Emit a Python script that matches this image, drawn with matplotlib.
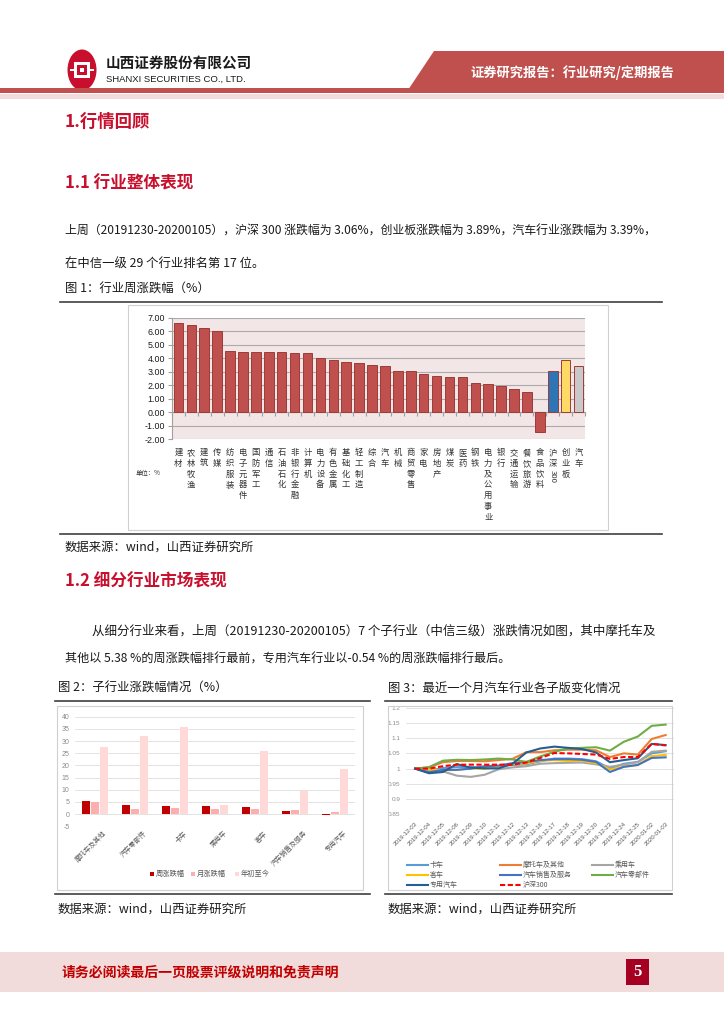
import numpy as np
import matplotlib.pyplot as plt
from matplotlib.patches import Rectangle, Polygon, Circle
from matplotlib.lines import Line2D
from matplotlib.ticker import FormatStrFormatter

plt.rcParams['font.family'] = ['Noto Sans CJK SC', 'DejaVu Sans']
plt.rcParams['axes.unicode_minus'] = False

W, H = 724, 1024
RED_TITLE = '#C8102E'
BANNER = '#C0504D'

# figure 1: weekly change by industry (%)
industries = ['建材', '农林牧渔', '建筑', '传媒', '纺织服装', '电子元器件', '国防军工', '通信',
              '石油石化', '非银行金融', '计算机', '电力设备', '有色金属', '基础化工', '轻工制造',
              '综合', '汽车', '机械', '商贸零售', '家电', '房地产', '煤炭', '医药', '钢铁',
              '电力及公用事业', '银行', '交通运输', '餐饮旅游', '食品饮料', '沪深300', '创业板', '汽车']
weekly_change = [6.63, 6.45, 6.23, 5.99, 4.51, 4.46, 4.46, 4.43, 4.43, 4.41, 4.36, 4.04, 3.87,
                 3.72, 3.62, 3.48, 3.39, 3.05, 3.05, 2.86, 2.68, 2.64, 2.59, 2.19, 2.07, 1.92,
                 1.75, 1.48, -1.45, 3.06, 3.89, 3.39]
y1_ticks = [-2, -1, 0, 1, 2, 3, 4, 5, 6, 7]

# figure 2: sub-industry change (%)
sub_industries = ['摩托车及其他', '汽车零部件', '卡车', '乘用车', '客车', '汽车销售及服务', '专用汽车']
sub_week = [5.38, 3.7, 3.4, 3.3, 2.9, 1.1, -0.54]
sub_month = [4.9, 2.0, 2.7, 2.2, 2.0, 1.8, 1.0]
sub_ytd = [27.4, 32.1, 35.6, 3.8, 26.0, 9.3, 18.6]
sub_series = ['周涨跌幅', '月涨跌幅', '年初至今']
y2_ticks = [-5, 0, 5, 10, 15, 20, 25, 30, 35, 40]

# figure 3: sub-industry index over the last month
dates = ['2019-12-03', '2019-12-04', '2019-12-05', '2019-12-06', '2019-12-09', '2019-12-10',
         '2019-12-11', '2019-12-12', '2019-12-13', '2019-12-16', '2019-12-17', '2019-12-18',
         '2019-12-19', '2019-12-20', '2019-12-23', '2019-12-24', '2019-12-25', '2020-01-02',
         '2020-01-03']
truck = [1.0, 0.993, 1.002, 1.005, 1.005, 1.005, 1.008, 1.012, 1.014, 1.024, 1.033, 1.033,
         1.031, 1.024, 1.001, 1.016, 1.022, 1.050, 1.057]
moto = [1.0, 1.004, 1.021, 1.025, 1.025, 1.024, 1.028, 1.032, 1.054, 1.054, 1.060, 1.062,
        1.062, 1.060, 1.038, 1.050, 1.046, 1.097, 1.110]
passenger = [1.0, 1.0, 0.991, 0.977, 0.973, 0.980, 0.998, 1.004, 1.008, 1.016, 1.018, 1.019,
             1.020, 1.014, 1.006, 1.013, 1.021, 1.055, 1.059]
bus = [1.0, 0.997, 0.994, 0.996, 1.001, 0.999, 1.009, 1.015, 1.017, 1.026, 1.028, 1.025,
       1.026, 1.018, 0.997, 1.006, 1.012, 1.041, 1.045]
sales = [1.0, 0.988, 0.996, 0.996, 1.0, 1.008, 1.010, 1.018, 1.022, 1.028, 1.031, 1.031,
         1.029, 1.022, 0.989, 1.006, 1.012, 1.035, 1.037]
parts = [1.0, 1.005, 1.026, 1.029, 1.028, 1.030, 1.033, 1.030, 1.022, 1.040, 1.055, 1.066,
         1.068, 1.070, 1.059, 1.088, 1.105, 1.140, 1.144]
special = [1.0, 0.985, 0.989, 1.015, 1.003, 1.001, 1.001, 1.016, 1.053, 1.066, 1.072, 1.068,
           1.064, 1.053, 1.021, 1.028, 1.034, 1.081, 1.077]
hs300 = [1.0, 1.0, 1.008, 1.013, 1.013, 1.013, 1.013, 1.013, 1.02, 1.035, 1.051, 1.050,
         1.048, 1.046, 1.032, 1.038, 1.038, 1.081, 1.076]
y3_ticks = [0.85, 0.9, 0.95, 1.0, 1.05, 1.1, 1.15, 1.2]


def fx(x):
    return x / W


def fy(y):
    return 1 - y / H


def put(fig, x, y, s, **kw):
    kw.setdefault('va', 'center')
    kw.setdefault('ha', 'left')
    fig.text(fx(x), fy(y), s, **kw)


def hline(fig, x0, x1, y, color='#404040', lw=1.2):
    fig.add_artist(Line2D([fx(x0), fx(x1)], [fy(y), fy(y)], color=color, lw=lw,
                          transform=fig.transFigure))


def box(fig, x0, y0, x1, y1, color='#D0D0D0', lw=0.8, fill=None):
    fig.add_artist(Rectangle((fx(x0), fy(y1)), (x1 - x0) / W, (y1 - y0) / H,
                             transform=fig.transFigure, lw=lw, edgecolor=color if fill is None else 'none',
                             facecolor=fill if fill else 'none'))


def header(fig):
    # logo
    fig.add_artist(Circle((fx(82), fy(70)), 14.5 / W, transform=fig.transFigure,
                          facecolor=RED_TITLE, edgecolor='none'))
    box(fig, 74, 62, 90, 78, fill='white')
    box(fig, 77, 65, 87, 75, fill=RED_TITLE)
    box(fig, 80, 68, 84, 72, fill='white')
    box(fig, 70, 69, 74, 71, fill='white')
    box(fig, 90, 69, 94, 71, fill='white')
    put(fig, 106, 63, '山西证券股份有限公司', fontsize=10.5, fontweight='bold', color='#1a1a1a')
    put(fig, 106, 79, 'SHANXI SECURITIES CO., LTD.', fontsize=6.8, color='#1a1a1a',
        family='Liberation Sans')
    # banner
    fig.add_artist(Rectangle((0, fy(93)), fx(420), 5 / H, transform=fig.transFigure,
                             facecolor=BANNER, edgecolor='none'))
    fig.add_artist(Polygon([(fx(434), fy(51)), (1, fy(51)), (1, fy(93)), (fx(406), fy(93))],
                           closed=True, transform=fig.transFigure, facecolor=BANNER,
                           edgecolor='none'))
    fig.add_artist(Rectangle((0, fy(99)), 1, 5 / H, transform=fig.transFigure,
                             facecolor='#F2DCDB', edgecolor='none'))
    put(fig, 470, 73, '证券研究报告：行业研究/定期报告', fontsize=9.5, fontweight='bold',
        color='white')


def footer(fig):
    fig.add_artist(Rectangle((0, fy(992)), 1, 40 / H, transform=fig.transFigure,
                             facecolor='#F2DCDB', edgecolor='none'))
    put(fig, 62, 972, '请务必阅读最后一页股票评级说明和免责声明', fontsize=10,
        fontweight='bold', color='#C00000')
    box(fig, 626, 959, 649, 985, fill='#A50021')
    put(fig, 637.5, 972, '5', fontsize=12, fontweight='bold', color='white', ha='center',
        family='Liberation Serif')


def chart_industry(fig):
    ax = fig.add_axes([fx(172), fy(439.3), 413 / W, 121.6 / H])
    x = np.arange(len(industries))
    colors = ['#C0504D'] * 29 + ['#2E75B6', '#FFD966', '#C9C9C9']
    ax.bar(x, weekly_change, width=0.74, color=colors, edgecolor='#9E3B38', linewidth=0.7,
           zorder=3)
    ax.set_xlim(-0.5, len(industries) - 0.5)
    ax.set_ylim(-2, 7)
    ax.set_facecolor('#F2E6E6')
    ax.set_yticks(y1_ticks)
    ax.yaxis.set_major_formatter(FormatStrFormatter('%.2f'))
    ax.grid(axis='y', color='#ABABAB', lw=0.8, zorder=1)
    for s in ['top', 'right']:
        ax.spines[s].set_visible(False)
    ax.spines['bottom'].set_position(('data', 0))
    ax.spines['bottom'].set_color('#A0A0A0')
    ax.spines['left'].set_color('#A0A0A0')
    ax.set_xticks(np.arange(-0.5, len(industries)))
    ax.set_xticklabels([])
    ax.tick_params(axis='x', length=3, color='#A0A0A0')
    ax.tick_params(axis='y', length=3, color='#A0A0A0', labelsize=6.4, labelcolor='#1a1a1a',
                   pad=2)
    for lab in ax.get_yticklabels():
        lab.set_family('Liberation Sans')
    off = -8.7 * 0.72
    for i, name in enumerate(industries):
        if name == '沪深300':
            ax.annotate('沪\n深', xy=(i, -2), xytext=(0, off), textcoords='offset points',
                        ha='center', va='top', fontsize=6, linespacing=1.25, color='#333333')
            ax.annotate('300', xy=(i, -2), xytext=(0, off - 15.5), textcoords='offset points',
                        ha='center', va='top', fontsize=5.6, rotation=-90, color='#333333')
        else:
            ax.annotate('\n'.join(name), xy=(i, -2), xytext=(0, off),
                        textcoords='offset points', ha='center', va='top', fontsize=6,
                        linespacing=1.25, color='#333333')
    put(fig, 136, 473, '单位：%', fontsize=4.6, color='#333333')


def chart_sub(fig):
    ax = fig.add_axes([fx(75), fy(826.3), 280 / W, 109.6 / H])
    x = np.arange(len(sub_industries))
    off = 0.22
    w = 0.19
    ax.bar(x - off, sub_week, width=w, color='#C00000', zorder=3)
    ax.bar(x, sub_month, width=w, color='#FFAEAE', zorder=3)
    ax.bar(x + off, sub_ytd, width=w, color='#FFD8D8', zorder=3)
    ax.set_xlim(-0.5, len(sub_industries) - 0.5)
    ax.set_ylim(-5, 40)
    ax.set_yticks(y2_ticks)
    ax.grid(axis='y', color='#E3E3E3', lw=0.7, zorder=1)
    for s in ax.spines.values():
        s.set_visible(False)
    ax.tick_params(axis='y', length=0, labelsize=5, labelcolor='#8C8C8C', pad=4)
    ax.set_xticks(x + 0.2)
    ax.set_xticklabels(sub_industries, rotation=45, ha='right', rotation_mode='anchor',
                       fontsize=4.9, color='#595959')
    ax.tick_params(axis='x', length=0, pad=2)
    for lab in ax.get_yticklabels():
        lab.set_family('Liberation Sans')
    # legend
    for lx, color, name in zip([150, 191, 235], ['#C00000', '#FFAEAE', '#FFD8D8'], sub_series):
        box(fig, lx, 872, lx + 4, 876, fill=color)
        put(fig, lx + 6, 874, name, fontsize=5.2, color='#595959')


def chart_lines(fig):
    ax = fig.add_axes([fx(406), fy(814.5), 268 / W, 107 / H])
    x = np.arange(len(dates))
    series = [
        ('卡车', truck, '#5B9BD5', '-'),
        ('摩托车及其他', moto, '#ED7D31', '-'),
        ('乘用车', passenger, '#A5A5A5', '-'),
        ('客车', bus, '#FFC000', '-'),
        ('汽车销售及服务', sales, '#4472C4', '-'),
        ('汽车零部件', parts, '#70AD47', '-'),
        ('专用汽车', special, '#255E91', '-'),
        ('沪深300', hs300, '#FF0000', '--'),
    ]
    for name, vals, color, ls in series:
        ax.plot(x, vals, color=color, lw=1.5, ls=ls, zorder=4 if ls == '--' else 3,
                dashes=(2.5, 1.2) if ls == '--' else (None, None))
    ax.set_xlim(-0.65, len(dates) - 0.4)
    ax.set_ylim(0.85, 1.2)
    ax.set_yticks(y3_ticks)
    ax.set_yticklabels(['0.85', '0.9', '0.95', '1', '1.05', '1.1', '1.15', '1.2'])
    ax.grid(axis='y', color='#E3E3E3', lw=0.7, zorder=1)
    for s in ax.spines.values():
        s.set_visible(False)
    ax.tick_params(axis='y', length=0, labelsize=4.6, labelcolor='#8C8C8C', pad=4)
    ax.set_xticks(x)
    ax.set_xticklabels(dates, rotation=45, ha='right', rotation_mode='anchor', fontsize=4.4,
                       color='#595959')
    ax.tick_params(axis='x', length=0, pad=5)
    for lab in ax.get_yticklabels() + ax.get_xticklabels():
        lab.set_family('Liberation Sans')
    # legend, three per row
    cols = [407, 500, 592]
    rows = [865, 875, 885]
    for k, (name, vals, color, ls) in enumerate(series):
        lx = cols[k % 3]
        ly = rows[k // 3]
        fig.add_artist(Line2D([fx(lx), fx(lx + 21)], [fy(ly), fy(ly)], color=color, lw=1.5,
                              ls=ls, dashes=(2.5, 1.2) if ls == '--' else (None, None),
                              transform=fig.transFigure))
        put(fig, lx + 23, ly, name, fontsize=5, color='#595959')


def main() -> None:
    fig = plt.figure(figsize=(W / 100, H / 100), dpi=100)

    header(fig)

    put(fig, 65, 122, '1.行情回顾', fontsize=12.5, fontweight='bold', color=RED_TITLE)
    put(fig, 65, 183, '1.1 行业整体表现', fontsize=12, fontweight='bold', color=RED_TITLE)
    put(fig, 65, 231, '上周（20191230-20200105），沪深 300 涨跌幅为 3.06%，创业板涨跌幅为 3.89%，'
        '汽车行业涨跌幅为 3.39%，', fontsize=8.6, color='#1a1a1a')
    put(fig, 65, 264, '在中信一级 29 个行业排名第 17 位。', fontsize=8.9, color='#1a1a1a')
    put(fig, 65, 289, '图 1：行业周涨跌幅（%）', fontsize=8.9, color='#1a1a1a')
    hline(fig, 60, 662, 302)

    box(fig, 128, 305, 608, 530)
    chart_industry(fig)
    hline(fig, 60, 662, 534)
    put(fig, 65, 547, '数据来源：wind，山西证券研究所', fontsize=8.9, color='#1a1a1a')

    put(fig, 65, 581, '1.2 细分行业市场表现', fontsize=12, fontweight='bold', color=RED_TITLE)
    put(fig, 92, 631, '从细分行业来看，上周（20191230-20200105）7 个子行业（中信三级）涨跌情况如图，'
        '其中摩托车及', fontsize=9, color='#1a1a1a')
    put(fig, 65, 659, '其他以 5.38 %的周涨跌幅排行最前，专用汽车行业以-0.54 %的周涨跌幅排行最后。',
        fontsize=8.7, color='#1a1a1a')

    put(fig, 58, 688, '图 2：子行业涨跌幅情况（%）', fontsize=8.9, color='#1a1a1a')
    put(fig, 388, 688, '图 3：最近一个月汽车行业各子版变化情况', fontsize=8.9, color='#1a1a1a')
    hline(fig, 55, 370, 701)
    hline(fig, 385, 672, 701)

    box(fig, 57, 706, 363, 890)
    box(fig, 388, 706, 672, 890)
    chart_sub(fig)
    chart_lines(fig)

    hline(fig, 55, 370, 894)
    hline(fig, 385, 672, 894)
    put(fig, 58, 909, '数据来源：wind，山西证券研究所', fontsize=8.9, color='#1a1a1a')
    put(fig, 388, 909, '数据来源：wind，山西证券研究所', fontsize=8.9, color='#1a1a1a')

    footer(fig)

    fig.savefig('out.png', dpi=100)
    plt.close(fig)


if __name__ == '__main__':
    main()
